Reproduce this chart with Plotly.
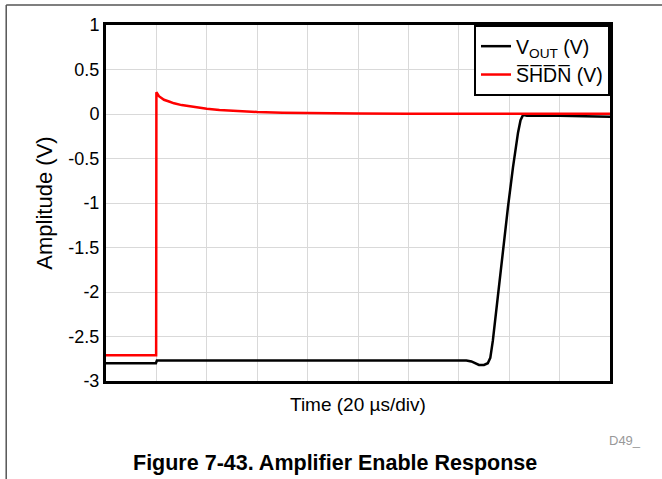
import plotly.graph_objects as go

# time in microseconds (20 us/div, 10 divisions)
t_shdn = [0, 19.9, 20.0, 20.5, 21, 22, 23, 25, 27, 30, 35, 40, 45, 50, 60, 70, 80, 100, 120, 150, 180, 200]
v_shdn = [-2.71, -2.71, 0.245, 0.225, 0.20, 0.18, 0.16, 0.14, 0.12, 0.10, 0.075, 0.058, 0.045, 0.035, 0.022, 0.014, 0.01, 0.005, 0.003, 0.002, 0.002, 0.002]

t_vout = [0, 19.8, 20.2, 21, 40, 80, 120, 143, 145, 146.5, 148, 150, 151.5, 152.5, 153.5, 155.5, 157.5, 159.5, 161.5, 162.5, 163.5, 164.5, 165.5, 167, 180, 200]
v_vout = [-2.80, -2.80, -2.77, -2.77, -2.77, -2.77, -2.77, -2.77, -2.78, -2.80, -2.82, -2.82, -2.80, -2.74, -2.55, -2.05, -1.53, -1.05, -0.60, -0.40, -0.21, -0.07, -0.01, -0.02, -0.02, -0.03]

y_ticks = [-3, -2.5, -2, -1.5, -1, -0.5, 0, 0.5, 1]
y_labels = ['-3', '-2.5', '-2', '-1.5', '-1', '-0.5', '0', '0.5', '1']

fig = go.Figure()
fig.add_trace(go.Scatter(x=t_vout, y=v_vout, mode='lines', name='V<sub>OUT</sub> (V)',
                         line=dict(color='black', width=2.5)))
fig.add_trace(go.Scatter(x=t_shdn, y=v_shdn, mode='lines', name='S\u0305H\u0305D\u0305N\u0305 (V)',
                         line=dict(color='#ff0000', width=2.5)))

# outer figure frame (left and top edges)
fig.add_shape(type='line', xref='paper', yref='paper', x0=-0.198, x1=-0.198, y0=-0.3, y1=1.056,
              line=dict(color='#555555', width=1.5))
fig.add_shape(type='line', xref='paper', yref='paper', x0=-0.198, x1=1.2, y0=1.056, y1=1.056,
              line=dict(color='#555555', width=1.5))

fig.add_annotation(text='Time (20 µs/div)', xref='paper', yref='paper', x=0.5, y=-0.03,
                   xanchor='center', yanchor='top', showarrow=False,
                   font=dict(size=19, color='black'))
fig.add_annotation(text='D49_', xref='paper', yref='paper', x=0.994, y=-0.166,
                   xanchor='left', yanchor='middle', showarrow=False,
                   font=dict(size=13, color='#999999'))
fig.add_annotation(text='<b>Figure 7-43. Amplifier Enable Response</b>', xref='paper', yref='paper',
                   x=0.454, y=-0.23, xanchor='center', yanchor='middle', showarrow=False,
                   font=dict(size=21.5, color='black'))

fig.update_layout(
    width=662, height=479,
    margin=dict(l=106, r=52, t=25, b=98),
    paper_bgcolor='white', plot_bgcolor='white',
    font=dict(family='Liberation Sans, Arial, sans-serif', size=18, color='black'),
    showlegend=True,
    legend=dict(x=1, y=1, xanchor='right', yanchor='top', bgcolor='white',
                bordercolor='black', borderwidth=2, font=dict(size=19.5),
                tracegroupgap=0),
    xaxis=dict(range=[0, 200], dtick=20, showticklabels=False, ticks='',
               showgrid=True, gridcolor='#d9d9d9', gridwidth=1,
               showline=True, linecolor='black', linewidth=3, mirror=True, zeroline=False),
    yaxis=dict(range=[-3, 1], tickvals=y_ticks, ticktext=y_labels,
               showgrid=True, gridcolor='#d9d9d9', gridwidth=1, ticks='',
               title=dict(text='Amplitude (V)', standoff=10),
               showline=True, linecolor='black', linewidth=3, mirror=True, zeroline=False),
)

fig.write_html("out.html", config={'displayModeBar': False},
               post_script="document.body.style.margin='0';")
